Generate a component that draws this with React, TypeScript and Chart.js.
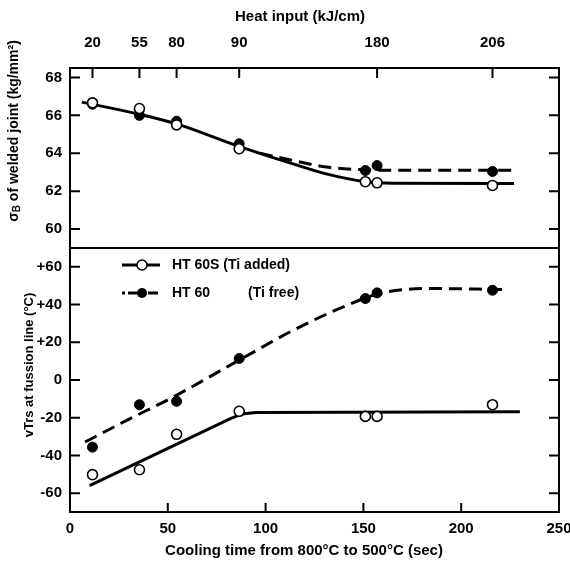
import React, { useEffect, useRef } from "react";
import { Chart, registerables } from "chart.js";

Chart.register(...registerables);

// ---- data ----
const coolingTime = [11.5, 35.5, 54.5, 86.5, 151, 157, 216];
const heatInputValues = [20, 55, 80, 90, 180, 206];
const heatInputTimes = [11.5, 35.5, 54.5, 86.5, 157, 216];

const strengthTiAdded = [66.66, 66.36, 65.5, 64.24, 62.5, 62.44, 62.3];
const strengthTiFree = [66.59, 66.0, 65.69, 64.5, 63.09, 63.35, 63.04];
const vtrsTiAdded = [-50.2, -47.6, -28.8, -16.6, -19.3, -19.3, -13.1];
const vtrsTiFree = [-35.6, -13.1, -11.3, 11.4, 43.2, 46.2, 47.6];

const strengthCurveTiAddedX = [6, 36, 54.5, 86, 114, 131, 151, 165, 227];
const strengthCurveTiAddedY = [66.7, 66.05, 65.55, 64.38, 63.44, 62.91, 62.5, 62.42, 62.4];
const strengthCurveTiFreeX = [97, 114, 131, 148, 165, 227];
const strengthCurveTiFreeY = [64.0, 63.62, 63.27, 63.14, 63.1, 63.1];

const vtrsCurveTiAddedX = [10, 82, 88, 95, 230];
const vtrsCurveTiAddedY = [-56, -20.5, -18, -17.2, -16.8];
const vtrsCurveTiFreeX = [7.7, 29, 52.8, 86.4, 114.2, 139.7, 158.5, 182.4, 223.3];
const vtrsCurveTiFreeY = [-32.9, -21.4, -9.0, 10.5, 26.4, 38.8, 45.9, 48.5, 48];

const coolingTicks = [0, 50, 100, 150, 200, 250];
const strengthTicks = [60, 62, 64, 66, 68];
const vtrsTicks = [-60, -40, -20, 0, 20, 40, 60];

const FONT = '"Liberation Sans", Arial, sans-serif';

const pts = (xs: number[], ys: number[]) => xs.map((x, i) => ({ x, y: ys[i] }));

function drawRotatedText(ctx: CanvasRenderingContext2D, parts: { t: string; size: number; dy: number }[], cx: number, cy: number) {
  ctx.save();
  ctx.translate(cx, cy);
  ctx.rotate(-Math.PI / 2);
  let total = 0;
  for (const p of parts) {
    ctx.font = `bold ${p.size}px ${FONT}`;
    total += ctx.measureText(p.t).width;
  }
  let x = -total / 2;
  ctx.textBaseline = "middle";
  ctx.textAlign = "left";
  for (const p of parts) {
    ctx.font = `bold ${p.size}px ${FONT}`;
    ctx.fillText(p.t, x, p.dy);
    x += ctx.measureText(p.t).width;
  }
  ctx.restore();
}

const framePlugin = {
  id: "frame",
  afterDraw(chart: any) {
    const ctx: CanvasRenderingContext2D = chart.ctx;
    const { left, right, top, bottom } = chart.chartArea;
    const s = chart.scales;
    ctx.save();
    ctx.strokeStyle = "#000";
    ctx.fillStyle = "#000";
    ctx.lineWidth = 2;
    ctx.strokeRect(left, top, right - left, bottom - top);
    const yd = s.yTop.bottom;
    ctx.beginPath();
    ctx.moveTo(left, yd);
    ctx.lineTo(right, yd);
    ctx.stroke();

    const TL = 9;
    ctx.beginPath();
    // bottom ticks
    for (const t of s.x.ticks) {
      if (t.value <= 0 || t.value >= 250) continue;
      const px = s.x.getPixelForValue(t.value);
      ctx.moveTo(px, bottom);
      ctx.lineTo(px, bottom - TL);
    }
    // top ticks
    for (const t of s.xTop.ticks) {
      const px = s.xTop.getPixelForValue(t.value);
      ctx.moveTo(px, top);
      ctx.lineTo(px, top + TL + 1);
    }
    for (const id of ["yTop", "yBot"]) {
      for (const t of s[id].ticks) {
        const py = s[id].getPixelForValue(t.value);
        ctx.moveTo(left, py);
        ctx.lineTo(left + TL + 1, py);
        ctx.moveTo(right, py);
        ctx.lineTo(right - TL - 1, py);
      }
    }
    ctx.stroke();

    // legend inside lower panel
    const lx = left + 52;
    const ly1 = s.yBot.top + 17;
    const ly2 = s.yBot.top + 45;
    ctx.lineWidth = 3;
    ctx.beginPath();
    ctx.moveTo(lx, ly1);
    ctx.lineTo(lx + 38, ly1);
    ctx.stroke();
    ctx.beginPath();
    ctx.arc(lx + 20, ly1, 5, 0, Math.PI * 2);
    ctx.fillStyle = "#fff";
    ctx.fill();
    ctx.lineWidth = 1.5;
    ctx.stroke();
    ctx.fillStyle = "#000";
    ctx.lineWidth = 3;
    ctx.setLineDash([3, 3, 10, 4]);
    ctx.beginPath();
    ctx.moveTo(lx, ly2);
    ctx.lineTo(lx + 38, ly2);
    ctx.stroke();
    ctx.setLineDash([]);
    ctx.beginPath();
    ctx.arc(lx + 20, ly2, 5, 0, Math.PI * 2);
    ctx.fill();
    ctx.font = `bold 14px ${FONT}`;
    ctx.textBaseline = "middle";
    ctx.textAlign = "left";
    ctx.fillText("HT 60S (Ti added)", lx + 50, ly1);
    ctx.fillText("HT 60", lx + 50, ly2);
    ctx.fillText("(Ti free)", lx + 126, ly2);

    // axis titles
    ctx.textAlign = "center";
    ctx.font = `bold 15px ${FONT}`;
    ctx.fillText("Heat input (kJ/cm)", 300, 17);
    ctx.fillText("Cooling time from 800°C to 500°C (sec)", 304, 551);
    drawRotatedText(
      ctx,
      [
        { t: "σ", size: 14, dy: 0 },
        { t: "B", size: 10, dy: 3 },
        { t: " of welded joint (kg/mm²)", size: 14, dy: 0 },
      ],
      14,
      131
    );
    drawRotatedText(ctx, [{ t: "vTrs at fussion line (°C)", size: 13, dy: 0 }], 29, 365);
    ctx.restore();
  },
};

export default function App() {
  const ref = useRef<HTMLCanvasElement | null>(null);
  useEffect(() => {
    if (!ref.current) return;
    const openPt = {
      showLine: false,
      pointRadius: 5,
      pointBackgroundColor: "#fff",
      pointBorderColor: "#000",
      pointBorderWidth: 1.6,
      order: 0,
    };
    const filledPt = {
      showLine: false,
      pointRadius: 5,
      pointBackgroundColor: "#000",
      pointBorderColor: "#000",
      pointBorderWidth: 1,
      order: 0,
    };
    const solidLine = {
      showLine: true,
      pointRadius: 0,
      borderColor: "#000",
      borderWidth: 3,
      cubicInterpolationMode: "monotone" as const,
      order: 1,
    };
    const dashLine = { ...solidLine, borderDash: [13, 7] };
    const chart = new Chart(ref.current, {
      type: "scatter",
      data: {
        datasets: [
          { label: "HT 60S strength", data: pts(coolingTime, strengthTiAdded), xAxisID: "x", yAxisID: "yTop", ...openPt },
          { label: "HT 60 strength", data: pts(coolingTime, strengthTiFree), xAxisID: "x", yAxisID: "yTop", ...filledPt },
          { label: "HT 60S vTrs", data: pts(coolingTime, vtrsTiAdded), xAxisID: "x", yAxisID: "yBot", ...openPt },
          { label: "HT 60 vTrs", data: pts(coolingTime, vtrsTiFree), xAxisID: "x", yAxisID: "yBot", ...filledPt },
          { label: "HT 60S strength fit", data: pts(strengthCurveTiAddedX, strengthCurveTiAddedY), xAxisID: "x", yAxisID: "yTop", ...solidLine },
          { label: "HT 60 strength fit", data: pts(strengthCurveTiFreeX, strengthCurveTiFreeY), xAxisID: "x", yAxisID: "yTop", ...dashLine },
          { label: "HT 60S vTrs fit", data: pts(vtrsCurveTiAddedX, vtrsCurveTiAddedY), xAxisID: "x", yAxisID: "yBot", ...solidLine, cubicInterpolationMode: "default", tension: 0 },
          { label: "HT 60 vTrs fit", data: pts(vtrsCurveTiFreeX, vtrsCurveTiFreeY), xAxisID: "x", yAxisID: "yBot", ...dashLine },
        ] as any,
      },
      options: {
        responsive: false,
        animation: false,
        devicePixelRatio: 1,
        layout: { padding: { left: 0, right: 11, top: 0, bottom: 0 } },
        plugins: { legend: { display: false }, tooltip: { enabled: false } },
        scales: {
          x: {
            type: "linear",
            position: "bottom",
            min: 0,
            max: 250,
            grid: { display: false, drawTicks: false },
            border: { display: false },
            afterBuildTicks: (sc: any) => {
              sc.ticks = coolingTicks.map((v) => ({ value: v }));
            },
            ticks: { color: "#000", font: { family: FONT, size: 15, weight: "bold" }, padding: 8, maxRotation: 0, autoSkip: false },
            afterFit: (sc: any) => {
              sc.height = 52;
              sc.paddingLeft = 0;
              sc.paddingRight = 0;
            },
          },
          xTop: {
            type: "linear",
            position: "top",
            min: 0,
            max: 250,
            grid: { display: false, drawTicks: false },
            border: { display: false },
            afterBuildTicks: (sc: any) => {
              sc.ticks = heatInputTimes.map((v) => ({ value: v }));
            },
            ticks: {
              color: "#000",
              font: { family: FONT, size: 15, weight: "bold" },
              padding: 16,
              maxRotation: 0,
              autoSkip: false,
              callback: (_v: any, i: number) => String(heatInputValues[i]),
            },
            afterFit: (sc: any) => {
              sc.height = 68;
              sc.paddingLeft = 0;
              sc.paddingRight = 0;
            },
          },
          yBot: {
            type: "linear",
            position: "left",
            stack: "panels",
            stackWeight: 264,
            min: -70,
            max: 70,
            grid: { display: false, drawTicks: false },
            border: { display: false },
            afterBuildTicks: (sc: any) => {
              sc.ticks = vtrsTicks.map((v) => ({ value: v }));
            },
            ticks: {
              color: "#000",
              font: { family: FONT, size: 15, weight: "bold" },
              padding: 8,
              autoSkip: false,
              callback: (v: any) => (Number(v) > 0 ? "+" + v : String(v)),
            },
            afterFit: (sc: any) => {
              sc.width = 70;
              sc.paddingTop = 0;
              sc.paddingBottom = 0;
            },
          },
          yTop: {
            type: "linear",
            position: "left",
            stack: "panels",
            stackWeight: 180,
            min: 59,
            max: 68.5,
            grid: { display: false, drawTicks: false },
            border: { display: false },
            afterBuildTicks: (sc: any) => {
              sc.ticks = strengthTicks.map((v) => ({ value: v }));
            },
            ticks: { color: "#000", font: { family: FONT, size: 15, weight: "bold" }, padding: 8, autoSkip: false },
            afterFit: (sc: any) => {
              sc.width = 70;
              sc.paddingTop = 0;
              sc.paddingBottom = 0;
            },
          },
        },
      } as any,
      plugins: [framePlugin],
    });
    return () => chart.destroy();
  }, []);
  return (
    <div style={{ position: "absolute", left: 0, top: 0, width: 570, height: 564, background: "#fff" }}>
      <canvas ref={ref} width={570} height={564} style={{ display: "block" }} />
    </div>
  );
}
